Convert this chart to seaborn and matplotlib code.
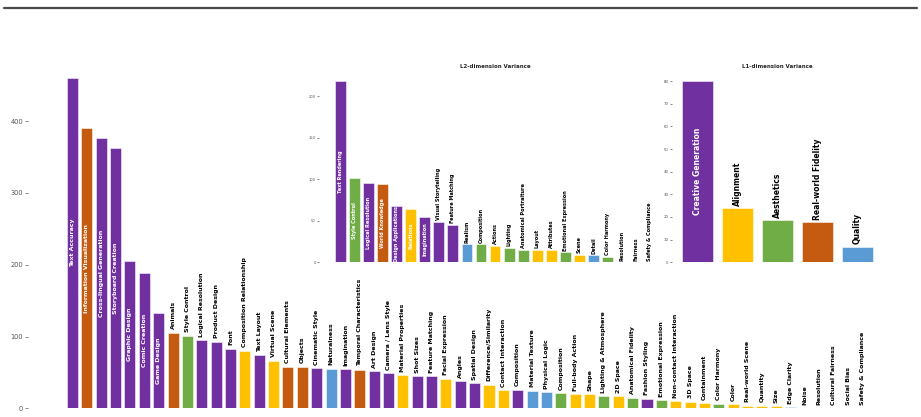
import matplotlib
matplotlib.use("Agg")
import matplotlib.pyplot as plt
import seaborn as sns
import pandas as pd
from matplotlib.lines import Line2D

# colour codes per dimension group
PURPLE = "#7030A0"
ORANGE = "#C55A11"
GREEN = "#70AD47"
YELLOW = "#FFC000"
BLUE = "#5B9BD5"

# L3 dimensions (main chart)
l3_names = ["Text Accuracy", "Information Visualization", "Cross-lingual Generation", "Storyboard Creation",
            "Graphic Design", "Comic Creation", "Game Design", "Animals", "Style Control", "Logical Resolution",
            "Product Design", "Font", "Composition Relationship", "Text Layout", "Virtual Scene",
            "Cultural Elements", "Objects", "Cinematic Style", "Naturalness", "Imagination",
            "Temporal Characteristics", "Art Design", "Camera / Lens Style", "Material Properties", "Shot Sizes",
            "Feature Matching", "Facial Expression", "Angles", "Spatial Design", "Difference/Similarity",
            "Contact Interaction", "Composition", "Material Texture", "Physical Logic", "Composition",
            "Full-body Action", "Shape", "Lighting & Atmosphere", "2D Space", "Anatomical Fidelity",
            "Fashion Styling", "Emotional Expression", "Non-contact Interaction", "3D Space", "Containment",
            "Color Harmony", "Color", "Real-world Scene", "Quantity", "Size", "Edge Clarity", "Noise",
            "Resolution", "Cultural Fairness", "Social Bias", "Safety & Compliance"]
l3_values = [460, 390, 376, 363, 205, 188, 133, 105, 101, 95,
             93, 83, 80, 74, 66, 58, 58, 56, 55, 54.5,
             54, 51.5, 49, 46, 44.6, 44.6, 41, 37.5, 35, 32.5,
             25.5, 25.8, 24.6, 22.3, 20.9, 19.5, 19.5, 16.7, 16.7, 15,
             13.5, 11.2, 9.8, 9.3, 7.4, 6.5, 6, 3.7, 3.3, 2.8, 1.4, 0,
             0, 0, 0, 0]
l3_colors = [PURPLE, ORANGE, PURPLE, PURPLE, PURPLE, PURPLE, PURPLE, ORANGE, GREEN, PURPLE,
             PURPLE, PURPLE, YELLOW, PURPLE, YELLOW, ORANGE, ORANGE, PURPLE, BLUE, PURPLE,
             ORANGE, PURPLE, PURPLE, YELLOW, PURPLE, PURPLE, YELLOW, PURPLE, PURPLE, YELLOW,
             YELLOW, PURPLE, BLUE, BLUE, GREEN, YELLOW, YELLOW, GREEN, YELLOW, GREEN,
             PURPLE, GREEN, YELLOW, YELLOW, YELLOW, GREEN, YELLOW, YELLOW, YELLOW, YELLOW, BLUE, BLUE,
             BLUE, PURPLE, PURPLE, PURPLE]

# L2 dimensions
l2_names = ["Text Rendering", "Style Control", "Logical Resolution", "World Knowledge", "Design Applications",
            "Relations", "Imagination", "Visual Storytelling", "Feature Matching", "Realism", "Composition",
            "Actions", "Lighting", "Anatomical Portraiture", "Layout", "Attributes", "Emotional Expression",
            "Scene", "Detail", "Color Harmony", "Resolution", "Fairness", "Safety & Compliance"]
l2_values = [218, 101.4, 95.7, 93.8, 68, 64.5, 55, 48.5, 45, 21.6, 21.6,
             19.6, 17.6, 15.2, 15.2, 14.8, 12, 8.8, 8.4, 6.5, 0, 0, 0]
l2_colors = [PURPLE, GREEN, PURPLE, ORANGE, PURPLE, YELLOW, PURPLE, PURPLE, PURPLE, BLUE, GREEN,
             YELLOW, GREEN, GREEN, YELLOW, YELLOW, GREEN, YELLOW, BLUE, GREEN, BLUE, PURPLE, PURPLE]

# L1 dimensions
l1_names = ["Creative Generation", "Alignment", "Aesthetics", "Real-world Fidelity", "Quality"]
l1_values = [80, 23.8, 18.5, 17.65, 6.75]
l1_colors = [PURPLE, YELLOW, GREEN, ORANGE, BLUE]

W, H = 921, 417
sns.set_style("white")
plt.rcParams["font.family"] = ["DejaVu Sans"]
fig = plt.figure(figsize=(W / 100, H / 100), dpi=100)


def px_axes(left, right, top, bottom):
    return fig.add_axes([left / W, (H - bottom) / H, (right - left) / W, (bottom - top) / H])


def draw(ax, names, values, colors, inside_min, fs, gap, tick_fs, ylim, xlim, ticks):
    keys = ["b%d" % i for i in range(len(names))]
    df = pd.DataFrame({"key": keys, "value": values})
    sns.barplot(data=df, x="key", y="value", hue="key", order=keys, hue_order=keys,
                palette=dict(zip(keys, colors)), legend=False, width=0.77, ax=ax,
                edgecolor=(1, 1, 1, 0.6), linewidth=0.6, saturation=1)
    for i, (n, v) in enumerate(zip(names, values)):
        if v >= inside_min:
            ax.text(i, v / 2, n, rotation=90, ha="center", va="center", color="white",
                    fontsize=fs, fontweight="bold")
        else:
            ax.annotate(n, (i, v), xytext=(0, gap), textcoords="offset points", rotation=90,
                        ha="center", va="bottom", color="black", fontsize=fs, fontweight="bold")
    ax.set_xlim(*xlim)
    ax.set_ylim(*ylim)
    ax.set_yticks(ticks)
    ax.set_xticks([])
    ax.set_xlabel("")
    ax.set_ylabel("")
    ax.tick_params(axis="y", labelsize=tick_fs, length=tick_fs * 0.5, width=0.5,
                   colors="#555555", pad=1, left=True)
    sns.despine(ax=ax, left=True, bottom=True)
    ax.patch.set_alpha(0)


ax_main = px_axes(28, 917, 7, 408.3)
draw(ax_main, l3_names, l3_values, l3_colors, 110, 4.5, 2.5, 4.8,
     (0, 559), (-3.1, 58.8), [0, 100, 200, 300, 400])

ax_l2 = px_axes(319, 671, 72, 262.3)
draw(ax_l2, l2_names, l2_values, l2_colors, 50, 3.6, 1.2, 2.6,
     (0, 229), (-1.51, 23.5), [0, 50, 100, 150, 200])
ax_l2.set_title("L2-dimension Variance", fontsize=4, fontweight="bold", pad=3)

ax_l1 = px_axes(672, 882.7, 72, 262.3)
draw(ax_l1, l1_names, l1_values, l1_colors, 40, 5.5, 2, 2.8,
     (0, 84), (-0.63, 4.64), list(range(0, 81, 10)))
ax_l1.set_title("L1-dimension Variance", fontsize=4, fontweight="bold", pad=3)

fig.add_artist(Line2D([4 / W, 917 / W], [(H - 7.5) / H, (H - 7.5) / H], color="#4a4a4a", linewidth=1.6))

fig.savefig("out.png", dpi=100)
